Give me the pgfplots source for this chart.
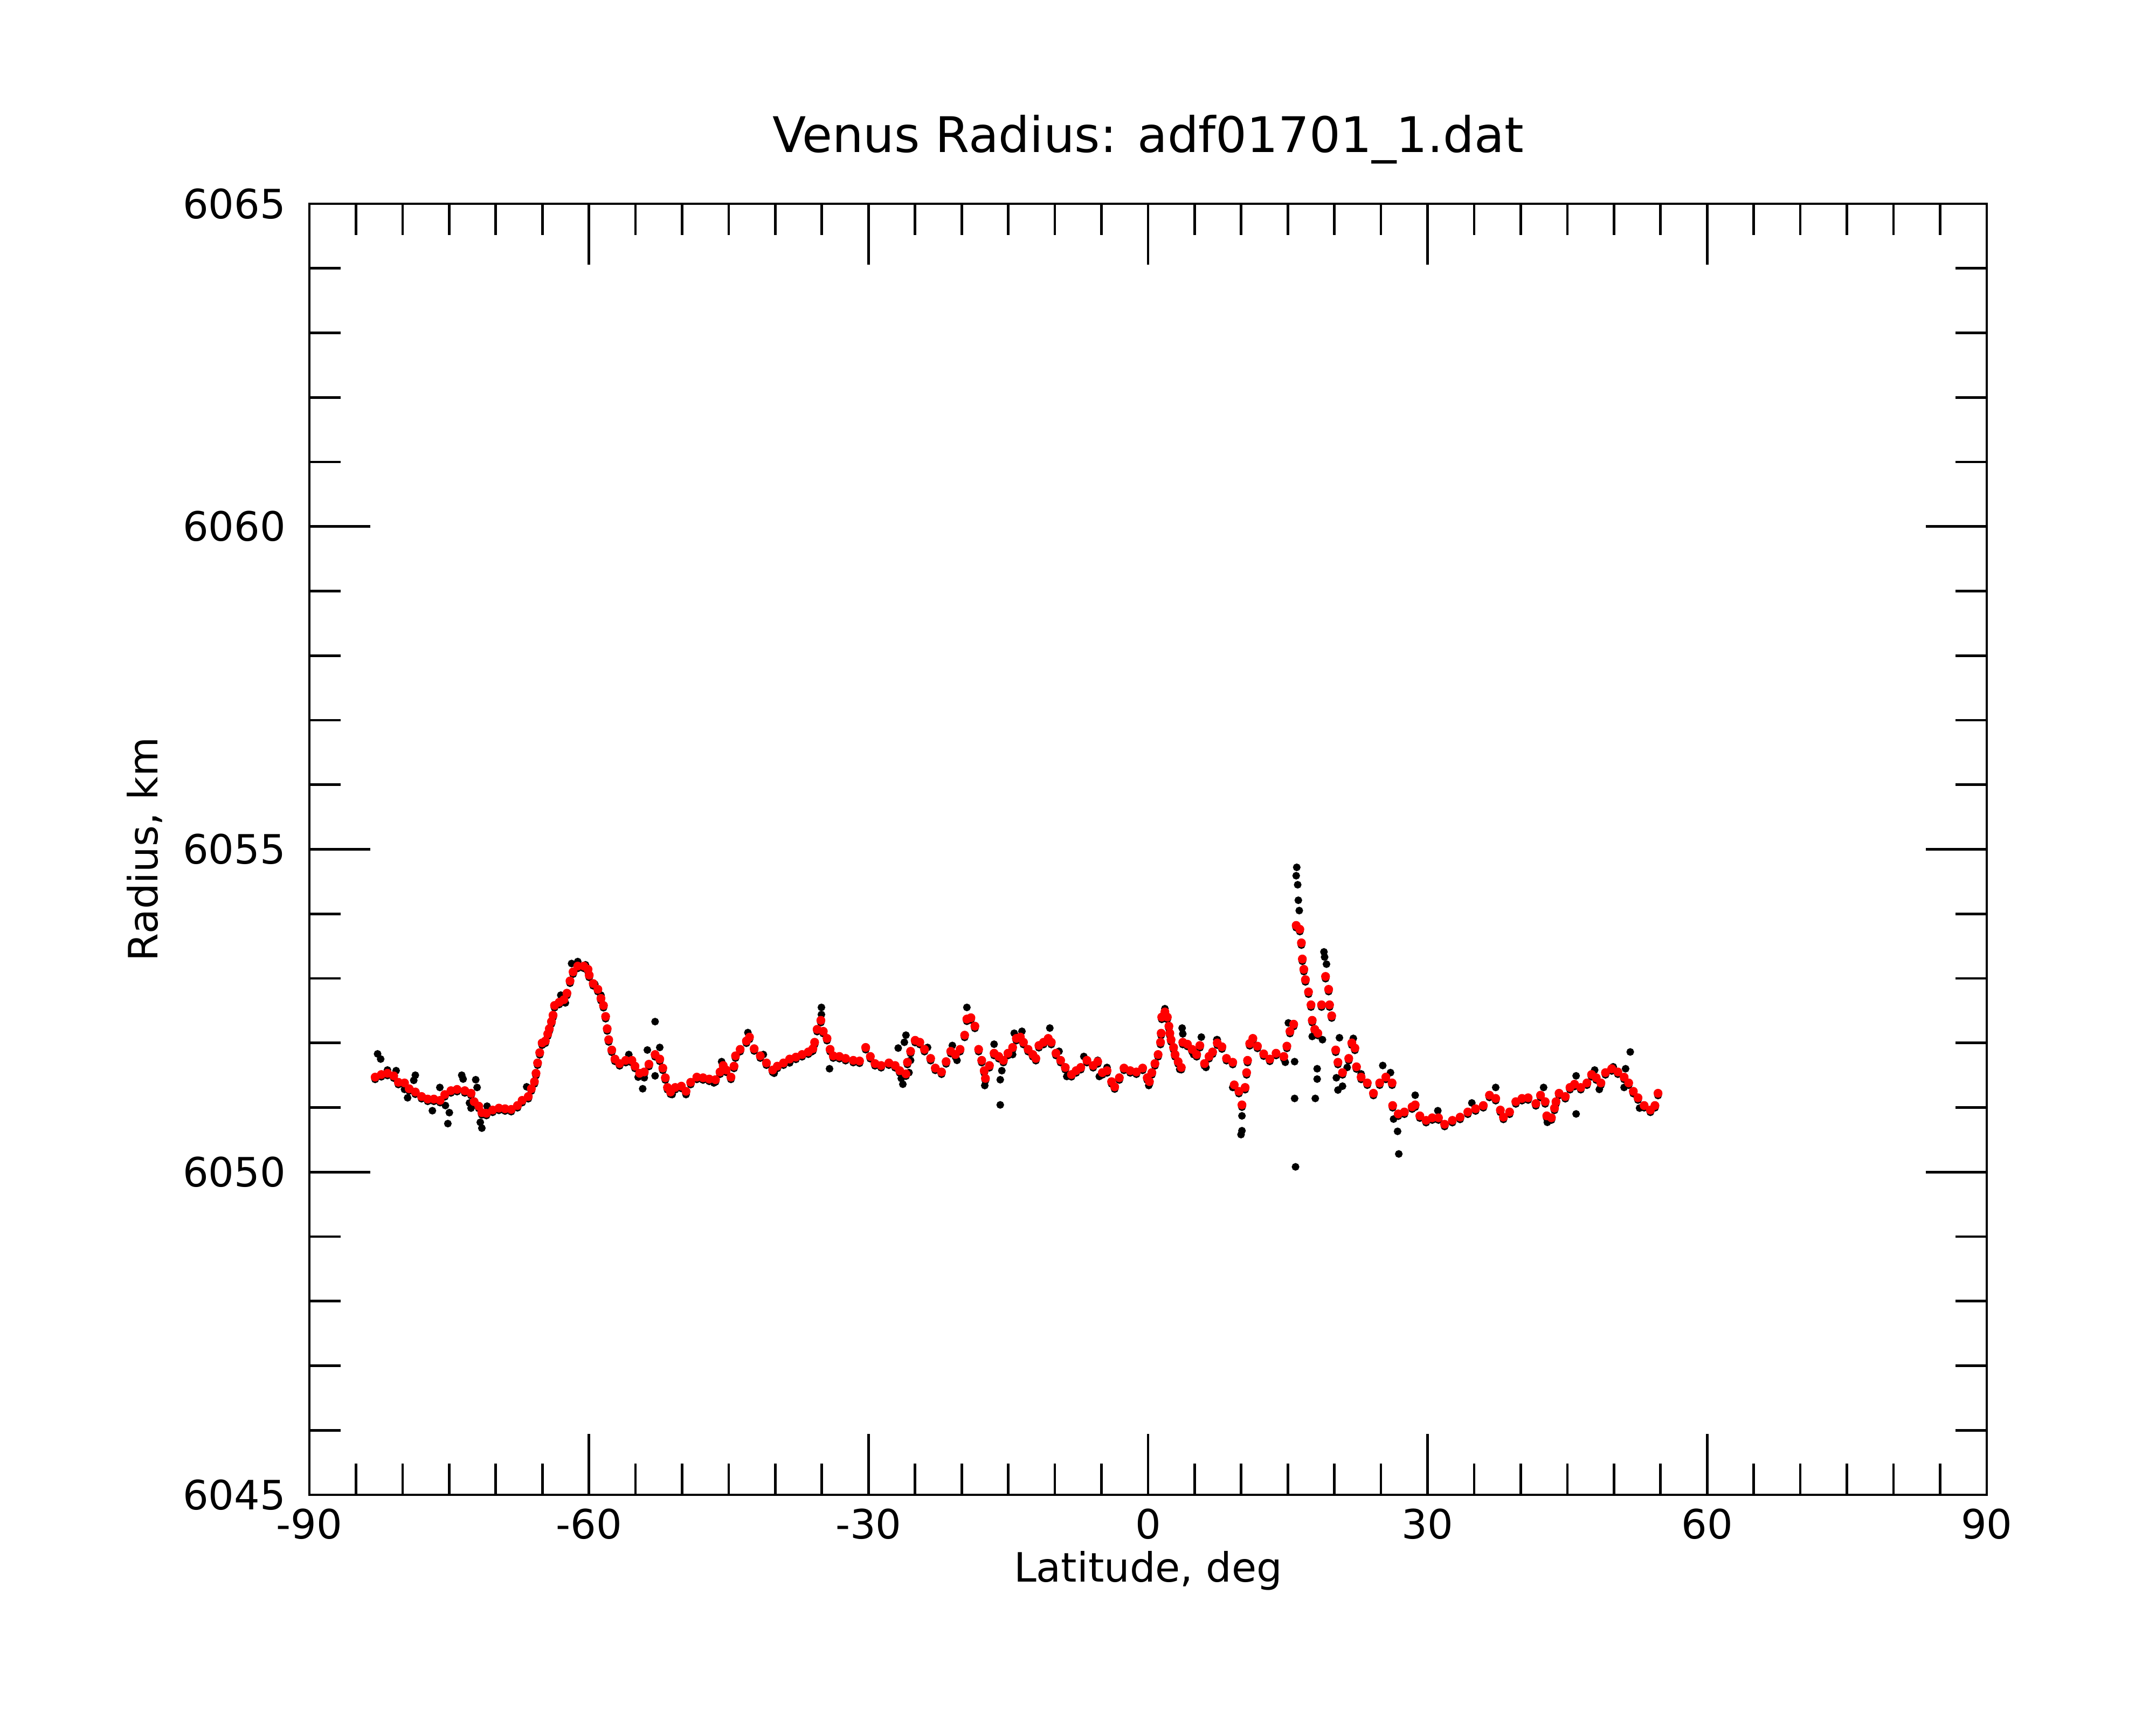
\documentclass[border=0pt]{standalone}
\usepackage{fontspec}
\setmainfont{DejaVu Sans}
\usepackage{pgfplots}
\pgfplotsset{compat=1.18}
\usepackage{pgfplotstable}
\pgfplotstableread{
lat val
-82.94 6051.47
-82.28 6051.51
-81.62 6051.53
-80.95 6051.49
-80.45 6051.39
-79.79 6051.38
-79.29 6051.29
-78.63 6051.24
-77.96 6051.17
-77.30 6051.13
-76.64 6051.13
-75.97 6051.11
-75.47 6051.20
-74.81 6051.26
-74.15 6051.28
-73.32 6051.26
-72.65 6051.22
-72.32 6051.09
-71.82 6051.02
-71.49 6050.92
-71.00 6050.91
-70.33 6050.96
-69.66 6050.99
-69.00 6050.98
-68.34 6050.97
-67.67 6051.03
-67.17 6051.11
-66.51 6051.17
-66.18 6051.29
-65.85 6051.40
-65.68 6051.53
-65.51 6051.69
-65.28 6051.85
-65.02 6052.00
-64.68 6052.03
-64.42 6052.14
-64.25 6052.22
-64.02 6052.33
-63.85 6052.43
-63.69 6052.58
-63.19 6052.63
-62.69 6052.67
-62.36 6052.77
-62.03 6052.96
-61.70 6053.10
-61.20 6053.19
-60.54 6053.19
-60.10 6053.14
-59.97 6053.05
-59.54 6052.92
-59.04 6052.83
-58.71 6052.69
-58.44 6052.58
-58.21 6052.41
-58.04 6052.22
-57.88 6052.05
-57.55 6051.89
-57.21 6051.75
-56.71 6051.68
-56.05 6051.73
-55.39 6051.73
-55.06 6051.64
-54.56 6051.53
-54.06 6051.55
-53.56 6051.67
-52.90 6051.82
-52.40 6051.75
-52.07 6051.61
-51.80 6051.46
-51.57 6051.31
-51.24 6051.24
-50.74 6051.31
-50.08 6051.33
-49.58 6051.25
-49.08 6051.39
-48.42 6051.47
-47.75 6051.46
-47.09 6051.44
-46.42 6051.43
-45.93 6051.55
-45.59 6051.65
-45.26 6051.58
-44.76 6051.47
-44.43 6051.64
-44.27 6051.80
-43.77 6051.90
-43.10 6052.03
-42.77 6052.09
-42.27 6051.91
-41.61 6051.80
-40.95 6051.69
-40.28 6051.58
-39.78 6051.64
-39.12 6051.69
-38.46 6051.75
-37.79 6051.78
-37.13 6051.82
-36.46 6051.86
-35.97 6051.91
-35.78 6052.01
-35.51 6052.21
-35.11 6052.35
-34.85 6052.18
-34.45 6052.07
-34.12 6051.90
-33.78 6051.80
-33.12 6051.79
-32.46 6051.76
-31.63 6051.73
-30.96 6051.72
-30.30 6051.93
-29.80 6051.79
-29.30 6051.68
-28.64 6051.65
-27.81 6051.69
-27.14 6051.65
-26.65 6051.57
-25.98 6051.52
-25.82 6051.70
-25.48 6051.87
-24.99 6052.04
-24.49 6052.01
-23.99 6051.90
-23.33 6051.76
-22.83 6051.61
-22.16 6051.55
-21.67 6051.71
-21.17 6051.87
-20.67 6051.82
-20.17 6051.90
-19.68 6052.12
-19.44 6052.37
-19.01 6052.39
-18.58 6052.26
-18.18 6051.90
-17.85 6051.73
-17.58 6051.57
-17.45 6051.45
-17.02 6051.65
-16.52 6051.84
-16.02 6051.79
-15.52 6051.73
-15.03 6051.84
-14.53 6051.93
-14.13 6052.07
-13.70 6052.09
-13.37 6052.01
-12.87 6051.90
-12.37 6051.82
-12.04 6051.76
-11.71 6051.96
-11.21 6052.01
-10.71 6052.07
-10.38 6052.01
-9.88 6051.84
-9.38 6051.73
-8.88 6051.62
-8.22 6051.51
-7.72 6051.57
-7.22 6051.62
-6.56 6051.73
-5.89 6051.65
-5.40 6051.71
-4.90 6051.54
-4.40 6051.57
-3.91 6051.40
-3.58 6051.32
-3.08 6051.46
-2.58 6051.61
-1.91 6051.57
-1.25 6051.55
-0.58 6051.61
-0.09 6051.46
0.15 6051.40
0.41 6051.54
0.74 6051.68
1.08 6051.82
1.34 6052.01
1.41 6052.15
1.47 6052.40
1.81 6052.48
2.07 6052.40
2.24 6052.26
2.34 6052.15
2.47 6052.05
2.74 6051.93
2.90 6051.82
3.23 6051.71
3.57 6051.62
3.73 6052.01
4.23 6051.98
4.73 6051.90
5.22 6051.82
5.56 6051.96
6.06 6051.68
6.55 6051.79
6.93 6051.86
7.43 6052.00
7.93 6051.94
8.42 6051.76
9.09 6051.70
9.25 6051.35
9.75 6051.25
10.08 6051.04
10.42 6051.31
10.58 6051.54
10.68 6051.73
10.91 6051.99
11.25 6052.07
11.74 6051.95
12.41 6051.83
13.07 6051.75
13.74 6051.84
14.57 6051.79
14.90 6051.95
15.23 6052.18
15.63 6052.29
15.90 6053.82
16.29 6053.76
16.46 6053.55
16.56 6053.30
16.72 6053.14
16.89 6052.98
17.22 6052.79
17.49 6052.59
17.62 6052.35
17.89 6052.21
18.22 6052.15
18.62 6052.59
19.05 6053.03
19.38 6052.83
19.48 6052.59
19.71 6052.42
20.14 6051.89
20.38 6051.70
20.87 6051.54
21.54 6051.76
21.87 6052.00
22.20 6051.92
22.37 6051.63
22.87 6051.47
23.53 6051.38
24.19 6051.22
24.86 6051.38
25.52 6051.47
26.19 6051.38
26.25 6051.03
26.85 6050.90
27.51 6050.93
28.34 6051.01
28.67 6051.04
29.17 6050.87
29.84 6050.80
30.50 6050.84
31.17 6050.84
31.83 6050.74
32.66 6050.80
33.49 6050.85
34.32 6050.93
35.15 6050.98
35.98 6051.03
36.64 6051.19
37.31 6051.14
37.81 6050.96
38.14 6050.85
38.80 6050.93
39.47 6051.09
40.13 6051.14
40.79 6051.15
41.62 6051.06
42.12 6051.19
42.62 6051.09
42.79 6050.87
43.29 6050.84
43.62 6050.99
43.78 6051.09
44.11 6051.22
44.78 6051.17
45.28 6051.31
45.77 6051.36
46.44 6051.31
47.10 6051.38
47.60 6051.51
48.10 6051.46
48.60 6051.38
49.09 6051.54
49.76 6051.60
50.42 6051.55
51.09 6051.47
51.58 6051.38
52.08 6051.25
52.58 6051.15
53.24 6051.03
53.91 6050.96
54.40 6051.03
54.73 6051.22
}\redtab
\pgfplotstableread{
lat val
-82.68 6051.83
-82.35 6051.75
-81.62 6051.58
-80.69 6051.57
-78.63 6051.50
-78.80 6051.42
-79.79 6051.28
-79.46 6051.15
-76.80 6050.95
-76.00 6051.31
-75.40 6051.03
-74.98 6050.92
-75.14 6050.75
-73.65 6051.50
-73.50 6051.44
-72.15 6051.43
-72.00 6051.31
-72.82 6051.07
-72.65 6050.99
-71.66 6050.77
-71.49 6050.68
-70.93 6051.02
-66.68 6051.32
-63.02 6052.74
-62.53 6052.62
-61.86 6053.23
-61.20 6053.26
-60.37 6053.21
-59.37 6052.91
-59.04 6052.80
-58.71 6052.74
-55.72 6051.82
-54.72 6051.47
-54.06 6051.46
-54.23 6051.29
-53.73 6051.89
-52.90 6052.33
-52.40 6051.93
-52.90 6051.49
-51.07 6051.20
-49.58 6051.20
-46.59 6051.38
-45.76 6051.71
-44.76 6051.46
-42.94 6052.16
-41.28 6051.82
-40.12 6051.53
-38.46 6051.69
-36.13 6051.86
-35.05 6052.55
-35.05 6052.44
-34.18 6051.60
-26.81 6051.92
-25.98 6052.12
-26.15 6052.01
-26.48 6051.45
-26.31 6051.36
-25.65 6051.54
-25.48 6051.73
-23.66 6051.93
-20.50 6051.73
-21.00 6051.96
-19.44 6052.55
-17.52 6051.34
-16.52 6051.98
-15.69 6051.57
-15.86 6051.43
-15.86 6051.04
-14.53 6051.82
-14.36 6052.15
-13.53 6052.18
-10.54 6052.23
-9.55 6051.87
-8.72 6051.48
-6.89 6051.79
-5.40 6051.73
-5.23 6051.48
-4.40 6051.62
0.08 6051.34
1.81 6052.53
3.66 6052.23
3.73 6052.14
3.40 6051.59
4.89 6051.82
5.72 6052.09
6.22 6051.62
7.38 6052.05
7.43 6052.05
9.09 6051.31
10.08 6050.87
10.08 6050.64
9.98 6050.58
14.73 6051.70
15.06 6052.31
15.73 6051.71
15.73 6051.14
15.83 6050.08
15.96 6054.72
15.90 6054.59
16.06 6054.45
16.13 6054.21
16.23 6054.05
17.62 6052.10
17.95 6051.14
18.15 6051.60
18.15 6051.44
18.72 6052.05
18.88 6053.41
18.95 6053.33
19.15 6053.22
20.21 6051.46
20.38 6051.27
20.54 6052.08
20.87 6051.33
21.37 6051.62
22.03 6052.07
22.87 6051.52
25.19 6051.65
26.02 6051.54
26.35 6050.82
26.78 6050.63
26.91 6050.28
28.67 6051.19
31.10 6050.95
34.75 6051.07
37.31 6051.31
42.45 6051.31
42.85 6050.77
45.94 6050.90
45.94 6051.49
47.93 6051.58
48.43 6051.28
49.92 6051.63
51.25 6051.60
51.75 6051.86
51.09 6051.31
52.75 6050.99
}\blacktab
\begin{document}
\begin{tikzpicture}
\useasboundingbox (-57.4pt,-42.7pt) rectangle (342.6pt,277.3pt);
\begin{axis}[
  at={(0pt,0pt)}, anchor=south west,
  scale only axis, width=311.2pt, height=239.5pt,
  xmin=-90, xmax=90, ymin=6045, ymax=6065,
  xtick={-90,-60,-30,0,30,60,90},
  xticklabels={-90,-60,-30,0,30,60,90},
  minor x tick num=5,
  ytick={6045,6050,6055,6060,6065},
  yticklabels={6045,6050,6055,6060,6065},
  minor y tick num=4,
  tick align=inside, tick pos=both,
  xticklabel pos=lower, yticklabel pos=left,
  major tick length=11.3pt, minor tick length=5.8pt,
  axis line style={line width=0.47pt, black},
  every tick/.style={line width=0.47pt, black},
  tick label style={font=\fontsize{7.5}{9}\selectfont, inner sep=0pt},
  xticklabel style={anchor=base, yshift=-8.2pt},
  yticklabel style={anchor=east, xshift=-4.2pt},
  xlabel={Latitude, deg},
  xlabel style={at={(axis description cs:0.5,-0.0676)}, anchor=base, inner sep=0pt, font=\fontsize{7.5}{9}\selectfont},
  ylabel={Radius, km},
  ylabel style={at={(axis description cs:-0.0903,0.5)}, rotate=0, anchor=base, inner sep=0pt, font=\fontsize{7.5}{9}\selectfont},
  title={Venus Radius: adf01701\_1.dat},
  title style={at={(axis description cs:0.5,1.0146)}, anchor=base, inner sep=0pt, font=\fontsize{9.1}{11}\selectfont},
  clip=false,
]
\addplot[only marks, mark=*, mark size=0.5pt, black, mark options={draw=black, fill=black}] table[x=lat, y=val] {\blacktab};
\addplot[only marks, mark=*, mark size=0.52pt, black, yshift=-0.4pt, mark options={draw=black, fill=black}] table[x=lat, y=val] {\redtab};
\addplot[only marks, mark=*, mark size=0.62pt, red, mark options={draw=red, fill=red}] table[x=lat, y=val] {\redtab};
\end{axis}
\end{tikzpicture}
\end{document}
